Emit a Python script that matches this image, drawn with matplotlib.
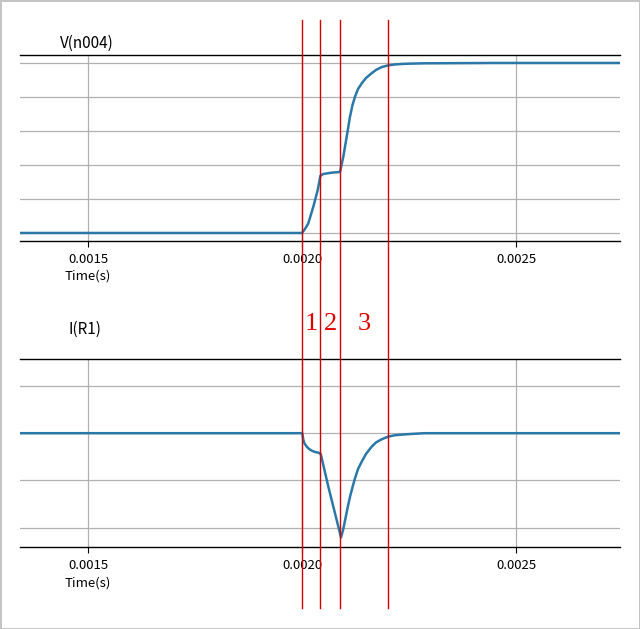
import matplotlib
matplotlib.use("Agg")
import matplotlib.pyplot as plt
from matplotlib.lines import Line2D
from matplotlib.transforms import blended_transform_factory

# ---- data ----
v_time = [0.00134, 0.0020000, 0.0020070, 0.0020147, 0.0020264, 0.0020367, 0.0020428,
          0.0020456, 0.0020498, 0.0020694, 0.0020888, 0.0020923, 0.0020965, 0.0021044,
          0.0021121, 0.0021180, 0.0021238, 0.0021308, 0.0021395, 0.0021495, 0.0021628,
          0.0021729, 0.0021862, 0.0022016, 0.0022173, 0.0022329, 0.0022523, 0.0022874,
          0.00245, 0.00275]
v_vals = [0.0, 0.0, 0.118, 0.285, 0.774, 1.265, 1.676,
          1.706, 1.735, 1.774, 1.794, 2.0, 2.245, 2.833,
          3.42, 3.765, 4.01, 4.235, 4.40, 4.559, 4.70,
          4.794, 4.88, 4.93, 4.956, 4.97, 4.98, 4.99,
          5.0, 5.0]

i_time = [0.00134, 0.0020007, 0.0020030, 0.0020058, 0.0020110, 0.0020164, 0.0020227,
          0.0020304, 0.0020381, 0.0020437, 0.0020615, 0.0020771, 0.0020911, 0.0020958,
          0.0021005, 0.0021063, 0.0021121, 0.0021180, 0.0021238, 0.0021308, 0.0021395,
          0.0021495, 0.0021628, 0.0021729, 0.0021862, 0.0022016, 0.0022173, 0.0022329,
          0.0022570, 0.0022874, 0.00275]
i_vals = [0.0, 0.0, -0.142, -0.217, -0.285, -0.334, -0.370,
          -0.398, -0.413, -0.440, -1.135, -1.70, -2.21, -2.057,
          -1.85, -1.589, -1.35, -1.143, -0.957, -0.760, -0.604,
          -0.440, -0.285, -0.196, -0.128, -0.072, -0.043, -0.030,
          -0.015, 0.0, 0.0]

xticks = [0.0015, 0.0020, 0.0025]
xtick_labels = ["0.0015", "0.0020", "0.0025"]
v_grid = [0, 1, 2, 3, 4, 5]
i_grid = [-2, -1, 0, 1]
phase_bounds = [0.0020, 0.0020425, 0.002089, 0.0022]
phase_labels = ["1", "2", "3"]
titles = ["V(n004)", "I(R1)"]

# ---- figure ----
fig = plt.figure(figsize=(6.4, 6.29), dpi=100)
fig.patch.set_edgecolor("#c4c4c4")
fig.patch.set_linewidth(2)

ax1 = fig.add_axes([0.03125, 0.6169, 0.9375, 0.2957])
ax2 = fig.add_axes([0.03125, 0.1304, 0.9375, 0.2989])

line_color = "#2b77a8"
tfont = ["Noto Sans CJK SC", "DejaVu Sans"]

def style(ax, grid, ylim):
    ax.set_xlim(0.001341, 0.002743)
    ax.set_ylim(*ylim)
    ax.set_yticks(grid)
    ax.set_xticks(xticks)
    ax.set_xticklabels(xtick_labels, fontfamily=tfont, fontsize=9.5)
    ax.tick_params(axis="y", left=False, labelleft=False)
    ax.tick_params(axis="x", length=4, width=0.8, pad=5)
    ax.grid(True, color="#b0b0b0", linewidth=0.9)
    ax.set_axisbelow(True)
    for s in ["left", "right"]:
        ax.spines[s].set_visible(False)
    for s in ["top", "bottom"]:
        ax.spines[s].set_linewidth(1.0)
        ax.spines[s].set_color("black")
    ax.text(xticks[0], -0.19, "Time(s)", transform=blended_transform_factory(ax.transData, ax.transAxes),
            ha="center", va="center", fontfamily=tfont, fontsize=9.5)

ax1.plot(v_time, v_vals, color=line_color, linewidth=1.8)
style(ax1, v_grid, (-0.235, 5.235))
ax1.text(0.067, 1.065, titles[0], transform=ax1.transAxes, ha="left", va="center",
         fontfamily=tfont, fontsize=11)

ax2.plot(i_time, i_vals, color=line_color, linewidth=1.8)
style(ax2, i_grid, (-2.413, 1.574))
ax2.text(0.08, 1.16, titles[1], transform=ax2.transAxes, ha="left", va="center",
         fontfamily=tfont, fontsize=11)

# phase boundary lines spanning the whole figure
trans = blended_transform_factory(ax1.transData, fig.transFigure)
for t in phase_bounds:
    fig.add_artist(Line2D([t, t], [0.0334, 0.968], transform=trans, color="#d00000", linewidth=1.0))

for k, lab in enumerate(phase_labels):
    mid = (phase_bounds[k] + phase_bounds[k + 1]) / 2
    fig.text(mid, 1 - 324 / 629, lab, transform=trans, ha="center", va="center",
             color="#e00000", fontfamily="Liberation Serif", fontsize=19)

fig.savefig("out.png", dpi=100, edgecolor=fig.get_edgecolor())
